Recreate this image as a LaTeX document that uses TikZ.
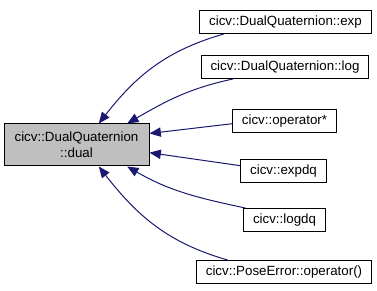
\documentclass[tikz,border=0pt]{standalone}
\usepackage{fontspec}
\setmainfont{Liberation Sans}
\usepackage{tikz}
\usetikzlibrary{
  arrows.meta,
  positioning
}

\definecolor{nodegray}{HTML}{BFBFBF}
\definecolor{edgeblue}{HTML}{191970}

\begin{document}
\begin{tikzpicture}[
  x=0.75pt,
  y=-0.75pt,
  font=\fontsize{10}{12}\selectfont,
  fn/.style={
    rectangle,
    draw=black,
    line width=0.75pt,
    fill=white,
    inner xsep=7pt,
    inner ysep=0pt,
    minimum height=17.25pt,
    align=center
  },
  current/.style={
    fn,
    fill=nodegray,
    minimum width=108.75pt,
    minimum height=31.5pt
  },
  call/.style={
    {Triangle[length=8.5pt,width=7pt]}-,
    draw=edgeblue,
    line width=0.75pt
  }
]

\useasboundingbox (0,0) rectangle (377,291);

% the function whose callers are shown
\node[current] (dual) at (76.5,145) {cicv::DualQuaternion\\::dual};

% callers, one column on the right
\node[fn] (dqexp) at (285.5,22) {cicv::DualQuaternion::exp};
\node[fn] (dqlog) at (285,67) {cicv::DualQuaternion::log};
\node[fn] (opmul) at (284.5,121) {cicv::operator*};
\node[fn] (expdq) at (283.5,171) {cicv::expdq};
\node[fn] (logdq) at (284.5,220) {cicv::logdq};
\node[fn] (poseerr) at (284,272) {cicv::PoseError::operator()};

% call edges, arrow at the called function
\draw[call] (dual.44) to[out=52,in=196] (dqexp.191);
\draw[call] (dual.23) to[out=30,in=192] (dqlog.193);
\draw[call] (dual.9) -- (opmul.183);
\draw[call] (dual.-6) -- (expdq.173);
\draw[call] (dual.-23) to[out=-30,in=168] (logdq.163);
\draw[call] (dual.-44) to[out=-52,in=164] (poseerr.168);

\end{tikzpicture}
\end{document}
